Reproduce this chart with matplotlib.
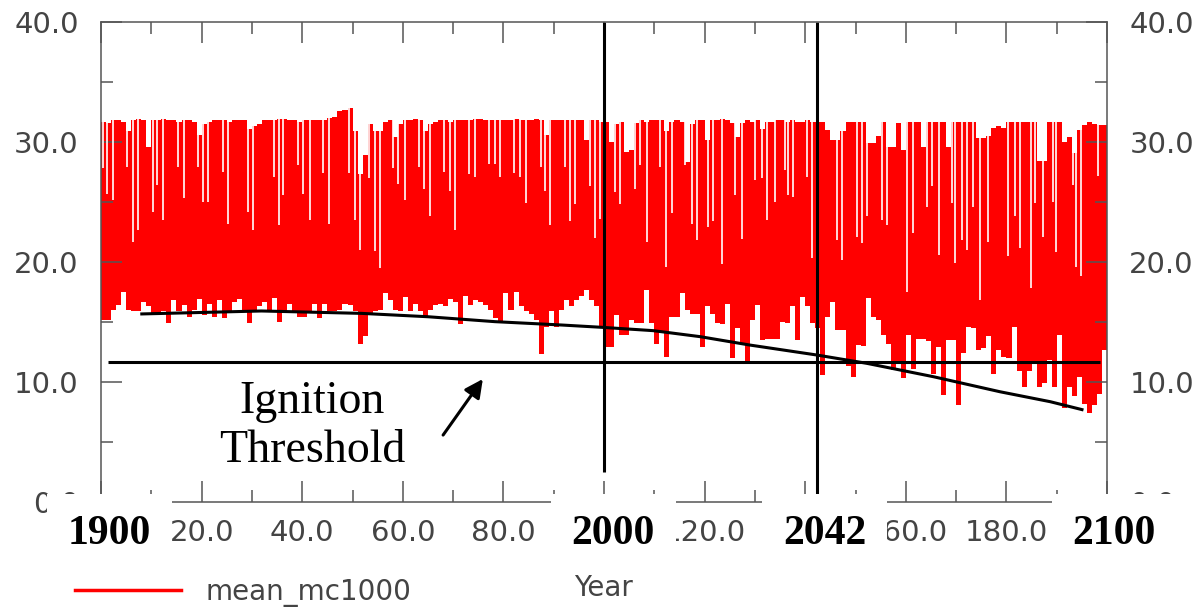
import numpy as np
import matplotlib
matplotlib.use("Agg")
import matplotlib.pyplot as plt
from matplotlib.ticker import MultipleLocator, FixedFormatter, FormatStrFormatter

# --- data (x = model year offset, 0 == 1900) ---
years = list(range(200))

# yearly upper envelope of mean_mc1000
highs = [
    31.7, 31.6, 31.8, 31.8, 31.7, 30.9, 31.8, 31.9, 31.8, 29.6,
    31.8, 31.8, 31.9, 31.8, 31.8, 31.7, 31.8, 31.8, 31.7, 30.6,
    31.5, 31.7, 31.8, 31.8, 31.8, 31.7, 31.8, 31.8, 31.8, 31.1,
    31.3, 31.5, 31.8, 31.8, 31.8, 31.9, 31.9, 31.8, 31.8, 31.7,
    31.8, 31.8, 31.8, 31.8, 31.8, 32.0, 32.1, 32.6, 32.7, 32.8,
    30.9, 27.3, 28.9, 31.5, 30.9, 30.9, 31.7, 31.8, 30.4, 31.5,
    31.8, 31.8, 31.9, 31.8, 30.9, 31.5, 31.7, 31.8, 31.8, 31.7,
    31.8, 31.8, 31.8, 31.8, 31.9, 31.9, 31.8, 31.8, 31.8, 31.8,
    31.8, 31.8, 31.9, 31.8, 31.8, 31.8, 31.9, 31.8, 30.6, 31.8,
    31.8, 31.8, 31.8, 31.8, 31.8, 31.8, 30.2, 31.8, 31.8, 31.7,
    31.7, 30.0, 31.5, 31.7, 29.2, 29.3, 31.6, 31.8, 31.7, 31.8,
    31.8, 31.8, 30.9, 31.7, 31.8, 31.7, 28.3, 31.5, 31.8, 31.8,
    30.2, 31.8, 31.8, 31.9, 31.8, 31.6, 30.4, 31.6, 31.8, 31.7,
    31.8, 31.1, 31.7, 31.7, 31.8, 31.8, 31.7, 31.8, 31.7, 31.7,
    31.8, 31.7, 31.7, 31.7, 31.0, 30.2, 30.2, 30.9, 31.7, 31.7,
    31.7, 31.7, 29.9, 29.9, 30.5, 31.7, 29.6, 29.6, 31.6, 29.3,
    31.7, 31.7, 31.7, 29.6, 31.7, 31.7, 31.7, 31.7, 29.6, 31.7,
    31.7, 31.7, 31.7, 31.7, 30.3, 30.3, 30.5, 31.2, 31.3, 31.2,
    31.7, 31.7, 31.7, 31.7, 31.7, 31.7, 28.4, 28.4, 31.7, 31.7,
    31.7, 30.0, 30.4, 29.1, 31.0, 31.4, 31.7, 31.5, 31.4, 31.4,
]

# yearly lower envelope
lows = [
    15.2, 15.2, 16.0, 16.4, 17.5, 16.0, 15.9, 15.9, 16.7, 16.3,
    15.7, 15.6, 15.9, 14.9, 16.8, 15.9, 16.4, 15.4, 16.0, 16.9,
    15.6, 16.5, 15.4, 16.8, 15.3, 15.9, 16.7, 16.9, 15.9, 14.9,
    15.9, 16.3, 16.7, 15.9, 17.0, 15.0, 15.9, 16.5, 15.9, 15.4,
    15.4, 15.9, 16.5, 15.3, 16.5, 15.9, 15.9, 16.0, 16.5, 16.4,
    15.9, 13.2, 13.8, 15.6, 15.9, 16.0, 17.4, 16.8, 16.0, 15.9,
    17.1, 15.9, 16.5, 15.9, 15.3, 16.0, 16.4, 16.5, 16.3, 16.9,
    16.7, 14.8, 17.2, 16.4, 16.8, 16.7, 16.4, 16.0, 15.3, 15.0,
    17.4, 16.0, 17.5, 16.3, 15.9, 15.7, 15.2, 12.3, 14.6, 15.9,
    14.6, 16.0, 16.8, 16.3, 16.8, 17.2, 17.7, 16.8, 16.3, 14.5,
    12.9, 12.9, 15.6, 13.9, 13.9, 15.2, 14.9, 14.9, 17.7, 14.9,
    13.2, 14.1, 12.1, 15.4, 15.4, 17.4, 16.0, 15.7, 15.7, 12.9,
    16.3, 15.7, 14.9, 14.8, 16.5, 12.0, 14.5, 13.2, 11.6, 15.2,
    16.4, 13.5, 13.6, 13.6, 13.6, 15.0, 14.9, 16.3, 13.5, 17.1,
    16.3, 14.9, 14.5, 10.6, 15.4, 16.7, 14.3, 14.3, 11.3, 10.4,
    13.1, 13.0, 17.0, 15.4, 15.2, 13.9, 13.2, 11.0, 11.7, 10.3,
    13.9, 11.1, 13.6, 13.6, 13.4, 10.7, 12.9, 8.9, 13.5, 13.5,
    8.1, 12.4, 14.6, 14.5, 12.7, 12.8, 13.8, 10.7, 12.7, 12.1,
    12.0, 14.6, 10.9, 9.6, 10.9, 11.6, 9.6, 9.9, 11.8, 9.6,
    13.9, 7.8, 9.6, 8.8, 10.4, 8.2, 7.4, 8.1, 9.0, 12.7,
]

# short drops from the top of the band (year, lowest value)
dip_years = [
    0.3, 1.1, 2.4, 5.2, 6.4, 7.4, 10.3, 11.2, 12.4, 15.4, 16.4, 19.2, 20.3,
    21.3, 24.3, 25.3, 29.3, 30.3, 34.3, 35.3, 36.2, 39.2, 40.2, 41.5, 44.2,
    45.4, 49.2, 50.5, 51.5, 53.2, 54.4, 55.4, 58.1, 59.1, 60.4, 63.3, 64.2,
    65.3, 68.1, 69.4, 70.4, 73.1, 74.4, 77.1, 78.3, 79.3, 82.1, 83.3, 84.4,
    87.4, 88.3, 89.3, 92.2, 93.2, 94.3, 97.2, 98.2, 99.2,
    102.2, 103.2, 106.2, 107.2, 108.5, 111.1, 112.4, 113.5, 116.1, 117.5,
    118.4, 120.7, 121.7, 123.4, 126.0, 127.4, 130.0, 131.3, 132.3, 134.0,
    135.9, 136.6, 137.6, 140.3, 141.3, 146.3, 147.3, 150.3, 151.3, 152.2,
    155.2, 156.2, 160.2, 161.5, 164.2, 165.2, 166.5, 169.1, 169.7, 171.1,
    172.1, 173.4, 174.7, 176.4, 180.3, 181.7, 182.7, 184.9, 185.7, 187.3,
    189.3, 189.9, 193.3, 193.9, 194.9, 198.2,
]
dip_values = [
    27.8, 25.7, 25.2, 27.9, 21.7, 22.7, 24.2, 26.4, 23.5, 27.9, 25.3, 27.9, 25.0,
    25.0, 27.5, 23.2, 24.2, 22.7, 27.1, 23.1, 25.6, 28.1, 25.7, 23.5, 27.4,
    23.2, 27.4, 23.5, 21.0, 27.0, 20.9, 19.5, 27.8, 26.5, 25.2, 27.9, 26.1,
    23.8, 27.5, 25.9, 22.7, 27.3, 27.1, 28.2, 28.2, 27.1, 27.4, 27.1, 24.9,
    27.9, 25.9, 23.1, 27.9, 23.4, 24.8, 26.3, 22.0, 23.6,
    25.8, 24.8, 26.1, 28.1, 21.7, 27.9, 19.6, 24.1, 28.1, 23.2,
    21.8, 22.9, 23.4, 19.8, 25.6, 21.9, 26.8, 27.0, 23.5, 25.0,
    27.7, 25.6, 25.4, 27.1, 20.3, 21.8, 20.2, 22.1, 21.6, 23.8,
    23.5, 23.1, 17.5, 22.4, 24.6, 26.3, 20.6, 24.9, 19.9, 21.8,
    21.0, 24.6, 16.8, 21.7, 20.5, 23.8, 21.2, 17.8, 24.9, 22.1,
    25.0, 20.8, 26.4, 19.6, 18.8, 27.2,
]

# hand-drawn trend curve
trend_years = [7.8, 31.9, 51.8, 65.0, 78.3, 91.6, 99.5, 109.8, 119.1, 129.0,
               142.3, 152.2, 165.5, 178.7, 188.7, 195.3]
trend_values = [15.67, 15.92, 15.72, 15.44, 15.03, 14.75, 14.56, 14.28, 13.78,
                13.08, 12.25, 11.56, 10.44, 9.19, 8.36, 7.67]

threshold = 11.67
threshold_span = [1.4, 198.6]

# marked years: vertical lines and the boxed labels under the axis
marker_lines = [100.0, 142.3]
marker_line_bottoms = [2.5, 0.6]
year_labels = ["1900", "2000", "2042", "2100"]
year_label_x = [1.6, 101.8, 143.9, 201.4]

# x tick labels; the ones hidden under the boxes are left blank
x_ticks = [0, 20, 40, 60, 80, 100, 120, 140, 160, 180, 200]
x_tick_labels = ["", "20.0", "40.0", "60.0", "80.0", "", "120.0", "", "160.0",
                 "180.0", ""]

GREY = "#555555"

fig = plt.figure(figsize=(11.97, 6.08), dpi=100)
ax = fig.add_axes([0.0844, 0.1743, 0.8405, 0.7895])

edges = years + [years[-1] + 1]
ax.stairs(highs, edges, baseline=lows, fill=True, color="#ff0000", lw=0)
ax.vlines(dip_years, dip_values, 34, color="white", lw=1.2)

# annotations drawn on top of the series
ax.plot(trend_years, trend_values, color="black", lw=2.2, solid_capstyle="butt")
ax.hlines(threshold, threshold_span[0], threshold_span[1], color="black", lw=2.2)
ax.vlines(marker_lines, marker_line_bottoms, 40, color="black", lw=2.2)

ax.set_xlim(0, 200)
ax.set_ylim(0, 40)
ax.set_xticks(x_ticks)
ax.xaxis.set_major_formatter(FixedFormatter(x_tick_labels))
ax.xaxis.set_minor_locator(MultipleLocator(10))
ax.yaxis.set_major_locator(MultipleLocator(10))
ax.yaxis.set_minor_locator(MultipleLocator(5))
ax.yaxis.set_major_formatter(FormatStrFormatter("%.1f"))

ax.tick_params(which="both", direction="in", top=True, right=True,
               labelright=True, color=GREY, width=1.1,
               labelsize=21, labelcolor="#444444")
ax.tick_params(which="major", length=15)
ax.tick_params(which="minor", length=8.5)
ax.tick_params(axis="y", pad=16)
ax.tick_params(axis="x", pad=12)
for sp in ax.spines.values():
    sp.set_color(GREY)
    sp.set_linewidth(1.1)

# ignition threshold label and arrow
ax.text(41.9, 6.3, "Ignition\nThreshold", ha="center", va="center",
        family="Liberation Serif", fontsize=33, linespacing=1.2)
ax.annotate("", xy=(75.9, 10.25), xytext=(68.0, 5.58),
            arrowprops=dict(arrowstyle="-|>,head_length=1.1,head_width=0.55",
                            color="black", lw=2.2, shrinkA=0, shrinkB=0))

# boxed year labels covering the original axis ticks
trans = ax.get_xaxis_transform()
for lab, xpos in zip(year_labels, year_label_x):
    ax.text(xpos, -0.067, lab, transform=trans, ha="center", va="center",
            family="Liberation Serif", fontweight="bold", fontsize=30,
            clip_on=False, zorder=10,
            bbox=dict(boxstyle="square,pad=0.5", fc="white", ec="none"))

# legend and axis title under the plot
fig.legend(handles=[plt.Line2D([], [], color="#ff0000", lw=2.5)],
           labels=["mean_mc1000"], loc="center left",
           bbox_to_anchor=(0.0627, 0.0263), frameon=False,
           fontsize=20, handlelength=3.8, handletextpad=0.9,
           borderpad=0, borderaxespad=0, labelcolor="#444444")
fig.text(603 / 1197, 0.033, "Year", ha="center", va="center",
         fontsize=20, color="#444444")

fig.savefig("out.png", dpi=100)
